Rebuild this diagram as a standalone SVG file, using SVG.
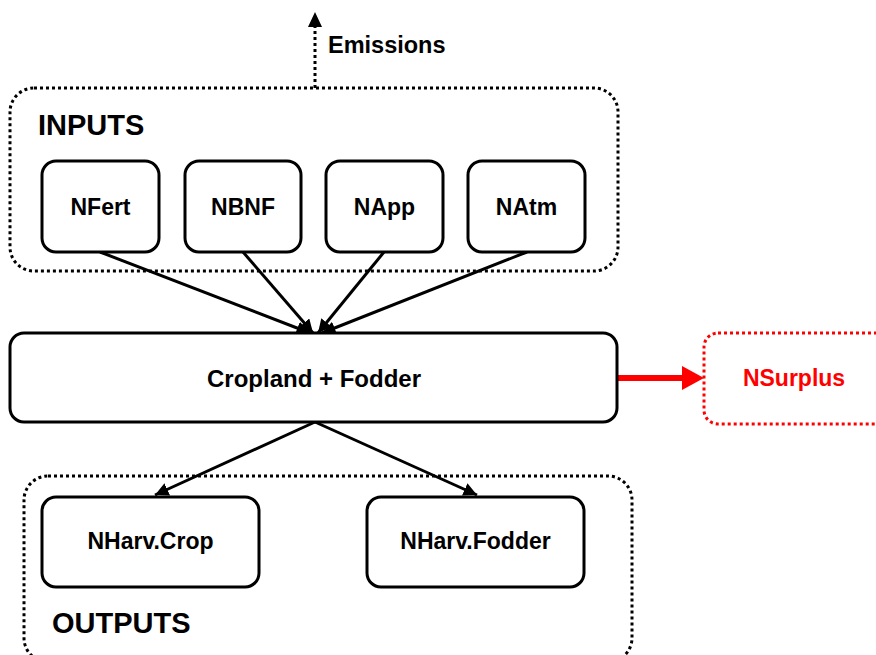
<svg xmlns="http://www.w3.org/2000/svg" width="876" height="655" viewBox="0 0 876 655">
<defs>
<style>
.box{fill:#fff;stroke:#000;stroke-width:3}
.grp{fill:none;stroke:#000;stroke-width:3;stroke-dasharray:3 3}
.lbl{font-family:"Liberation Sans",Arial,sans-serif;font-weight:bold;font-size:23px;fill:#000;text-anchor:middle;dominant-baseline:central}
.title{font-family:"Liberation Sans",Arial,sans-serif;font-weight:bold;font-size:29px;fill:#000}
.edge{stroke:#000;stroke-width:3;fill:none}
</style>
<marker id="ah" viewBox="0 0 10 10" refX="10" refY="5" markerWidth="4.5" markerHeight="4.5" orient="auto" markerUnits="strokeWidth">
<path d="M0,0 L10,5 L0,10 z" fill="#000"/>
</marker>
</defs>
<rect width="876" height="655" fill="#fff"/>

<g id="inputs-group">
<rect class="grp" x="10" y="88" width="608" height="183" rx="24"/>
<text class="title" x="38" y="135">INPUTS</text>
</g>
<g id="outputs-group">
<rect class="grp" x="24" y="476" width="608" height="186" rx="24"/>
<text class="title" x="52" y="633">OUTPUTS</text>
</g>

<g id="connectors">
<path class="edge" d="M315,88 L315,26" stroke-dasharray="3 3"/>
<path d="M315,12 L308,27 L322,27 z" fill="#000"/>
<path class="edge" d="M100,252 L310,333" marker-end="url(#ah)"/>
<path class="edge" d="M243,252 L313,333" marker-end="url(#ah)"/>
<path class="edge" d="M384,252 L318,333" marker-end="url(#ah)"/>
<path class="edge" d="M527,252 L322,333" marker-end="url(#ah)"/>
<path class="edge" d="M315,422 L155,495" marker-end="url(#ah)"/>
<path class="edge" d="M315,422 L477,495" marker-end="url(#ah)"/>
<path d="M617,378 L684,378" stroke="#f00" stroke-width="6" fill="none"/>
<path d="M704,378 L682,366 L682,390 z" fill="#f00"/>
</g>
<g id="emissions-label">
<text class="lbl" x="328" y="45" style="text-anchor:start;font-size:23.5px">Emissions</text>
</g>

<g id="NFert"><rect class="box" x="42" y="161" width="117" height="91" rx="14"/><text class="lbl" x="100.5" y="207">NFert</text></g>
<g id="NBNF"><rect class="box" x="185" y="161" width="116" height="91" rx="14"/><text class="lbl" x="243" y="207">NBNF</text></g>
<g id="NApp"><rect class="box" x="326" y="161" width="117" height="91" rx="14"/><text class="lbl" x="384.5" y="207">NApp</text></g>
<g id="NAtm"><rect class="box" x="468" y="161" width="117" height="91" rx="14"/><text class="lbl" x="526.5" y="207">NAtm</text></g>

<g id="Cropland"><rect class="box" x="10" y="333" width="607" height="89" rx="14"/><text class="lbl" x="314" y="378" style="font-size:24px">Cropland + Fodder</text></g>

<g id="NSurplus"><rect x="704" y="333" width="200" height="91" rx="14" fill="#fff" stroke="#f00" stroke-width="3" stroke-dasharray="3 3"/><text class="lbl" x="794" y="378" style="fill:#f00">NSurplus</text></g>

<g id="NHarvCrop"><rect class="box" x="42" y="497" width="217" height="90" rx="14"/><text class="lbl" x="150.5" y="541">NHarv.Crop</text></g>
<g id="NHarvFodder"><rect class="box" x="367" y="497" width="217" height="90" rx="14"/><text class="lbl" x="475.5" y="541">NHarv.Fodder</text></g>
</svg>
